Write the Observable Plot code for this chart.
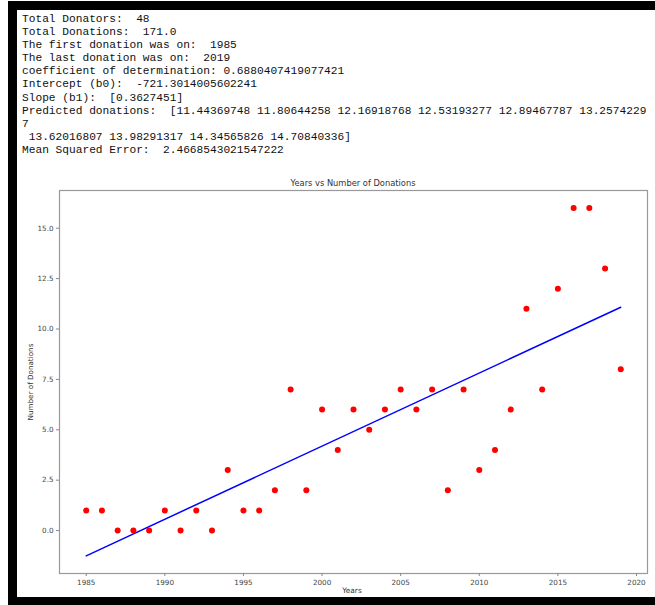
<!DOCTYPE html>
<html>
<head>
<meta charset="utf-8">
<script src="https://cdn.jsdelivr.net/npm/d3@7"></script>
<script src="https://cdn.jsdelivr.net/npm/@observablehq/plot@0.6"></script>
<style>
  html, body { margin: 0; padding: 0; background: #fff; width: 655px; height: 605px; overflow: hidden; }
  #page { position: relative; width: 655px; height: 605px; }
  .bar { position: absolute; background: #000; }
  #out { position: absolute; left: 22px; top: 13px; font-family: "Liberation Mono", monospace; font-size: 11.2px; line-height: 13.1px; white-space: pre; color: #111; }
  #chart { position: absolute; left: 0; top: 170px; }
  .lbl { position: absolute; font-family: "DejaVu Sans", sans-serif; color: #333; white-space: nowrap; }
</style>
</head>
<body>
<div id="page">
  <div class="bar" style="left:8px; top:1px; width:647px; height:9px;"></div>
  <div class="bar" style="left:8px; top:1px; width:9px; height:604px;"></div>
  <div class="bar" style="left:8px; top:597px; width:647px; height:8px;"></div>
  <div id="out"></div>
  <div id="chart"></div>
  <div class="lbl" id="title" style="left:353px; top:178px; font-size:8.3px; transform:translateX(-50%);"></div>
  <div class="lbl" id="xlab" style="left:352px; top:586px; font-size:7.4px; transform:translateX(-50%);"></div>
  <div class="lbl" id="ylab" style="left:30px; top:381.5px; font-size:7.2px; transform:translate(-50%,-50%) rotate(-90deg);"></div>
</div>
<script>
const outputLines = [
  "Total Donators:  48",
  "Total Donations:  171.0",
  "The first donation was on:  1985",
  "The last donation was on:  2019",
  "coefficient of determination: 0.6880407419077421",
  "Intercept (b0):  -721.3014005602241",
  "Slope (b1):  [0.3627451]",
  "Predicted donations:  [11.44369748 11.80644258 12.16918768 12.53193277 12.89467787 13.2574229",
  "7",
  " 13.62016807 13.98291317 14.34565826 14.70840336]",
  "Mean Squared Error:  2.4668543021547222"
];
const chartTitle = "Years vs Number of Donations";
const xLabel = "Years";
const yLabel = "Number of Donations";

const years = [1985,1986,1987,1988,1989,1990,1991,1992,1993,1994,1995,1996,1997,1998,1999,2000,2001,2002,2003,2004,2005,2006,2007,2008,2009,2010,2011,2012,2013,2014,2015,2016,2017,2018,2019];
const donations = [1,1,0,0,0,1,0,1,0,3,1,1,2,7,2,6,4,6,5,6,7,6,7,2,7,3,4,6,11,7,12,16,16,13,8];

const xTicks = [1985,1990,1995,2000,2005,2010,2015,2020];
const yTicks = [0,2.5,5,7.5,10,12.5,15];

document.getElementById("out").textContent = outputLines.join("\n");
document.getElementById("title").textContent = chartTitle;
document.getElementById("xlab").textContent = xLabel;
document.getElementById("ylab").textContent = yLabel;

const data = years.map((y, i) => ({year: y, count: donations[i]}));

const chart = Plot.plot({
  width: 655,
  height: 427,
  marginLeft: 59,
  marginRight: 8,
  marginTop: 20,
  marginBottom: 24,
  style: {fontFamily: "DejaVu Sans, sans-serif", color: "#444", background: "transparent"},
  x: {domain: [1983.3, 2020.7], label: null},
  y: {domain: [-2.13, 16.87], label: null},
  marks: [
    Plot.frame({stroke: "#999", strokeWidth: 1.2}),
    Plot.axisX({ticks: xTicks, tickFormat: "d", tickSize: 3, tickPadding: 3, fontSize: 7.2, stroke: "#888", fill: "#444", label: null}),
    Plot.axisY({ticks: yTicks, tickFormat: ".1f", tickSize: 3, tickPadding: 3, fontSize: 7.2, stroke: "#888", fill: "#444", label: null}),
    Plot.linearRegressionY(data, {x: "year", y: "count", stroke: "blue", strokeWidth: 1.5, ci: 0}),
    Plot.dot(data, {x: "year", y: "count", r: 3, fill: "red", stroke: "none"})
  ]
});
document.getElementById("chart").appendChild(chart);
</script>
</body>
</html>
